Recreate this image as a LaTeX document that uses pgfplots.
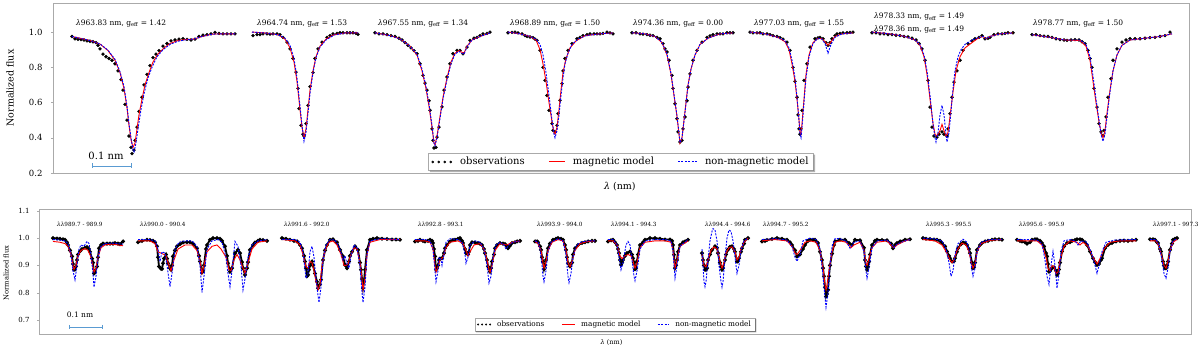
\documentclass[border=0pt]{standalone}
\usepackage{fontspec}
\setmainfont{DejaVu Serif}
\usepackage{pgfplots}
\pgfplotsset{compat=1.18}
\definecolor{framegray}{RGB}{170,170,170}
\definecolor{scalebar}{RGB}{90,155,210}

\pgfplotsset{
  spec/.style={
    scale only axis, clip mode=individual, unbounded coords=jump,
    axis line style={framegray, line width=0.8pt},
    xtick=\empty, ytick pos=left,
    tick style={framegray}, major tick length=2pt, tick align=outside,
    /pgf/number format/fixed, /pgf/number format/fixed zerofill,
    /pgf/number format/precision=1,
    /pgf/number format/assume math mode=true,
    legend cell align=left, legend columns=3,
  },
}
% shadow strips below and right of a named legend box
\newcommand\legshadow[2]{%
  \ifcsname pgf@sh@ns@#1\endcsname
    \fill[black, opacity=0.3] ([xshift=#2]#1.south west) -- ([xshift=#2,yshift=-#2]#1.south west)
      -- ([xshift=#2,yshift=-#2]#1.south east) -- ([xshift=#2,yshift=-#2]#1.north east)
      -- ([yshift=-#2]#1.north east) -- (#1.south east) -- cycle;
  \fi}
\newcommand\dsh{\rule[-0.5pt]{2pt}{1pt}\hspace{1.4pt}}

\begin{document}
\begin{tikzpicture}
\useasboundingbox (0pt,0pt) rectangle (1200pt,-352pt);

% ---------------- top panel ----------------
\begin{axis}[spec,
  at={(53pt,-173pt)}, anchor=south west,
  width=1136pt, height=170pt,
  xmin=53, xmax=1189, ymin=0.2, ymax=1.165,
  ytick={0.2,0.4,0.6,0.8,1.0},
  yticklabel style={font=\fontsize{8.5}{10}\selectfont, xshift=-5pt},
  legend style={at={(0.5,0.065)}, anchor=center, draw=framegray, fill=white,
    name=legT, font=\fontsize{10}{12}\selectfont, inner xsep=3pt, inner ysep=2pt,
    /tikz/every odd column/.append style={column sep=6pt},
    /tikz/every even column/.append style={column sep=22pt}},
]
\addlegendimage{legend image code/.code={\foreach \k in {0,1,2,3} \fill[black] (\k*6pt+1pt,0pt) circle (1.1pt);}}
\addlegendentry{observations}
\addlegendimage{legend image code/.code={\node[inner sep=0pt, anchor=west] at (0pt,0pt) {\textcolor{red}{\rule[-0.5pt]{16pt}{1pt}}};}}
\addlegendentry{magnetic model}
\addlegendimage{legend image code/.code={\node[inner sep=0pt, anchor=west] at (0pt,0pt) {\textcolor{blue}{\dsh\dsh\dsh\dsh\dsh\rule[-0.5pt]{2pt}{1pt}}};}}
\addlegendentry{non-magnetic model}

\addplot[black, draw opacity=0, mark=*, mark size=1.5pt, mark options={draw opacity=1}, forget plot] coordinates {
(72,0.975)(75,0.962)(78,0.958)(81,0.957)(84,0.955)(87,0.950)(90,0.948)(93,0.945)(96,0.940)(98,0.925)(100,0.905)(103,0.875)(106,0.86)(109,0.85)(112,0.84)(115,0.82)(118,0.78)(121,0.73)(123,0.67)(125,0.59)(127,0.50)(129,0.41)(131,0.345)(132,0.31)(134,0.33)(135,0.385)(137,0.46)(139,0.55)(142,0.63)(144,0.70)(147,0.76)(150,0.81)(153,0.855)(156,0.875)(159,0.895)(163,0.92)(167,0.935)(171,0.95)(175,0.955)(179,0.96)(183,0.962)(187,0.958)(191,0.955)(195,0.96)(199,0.975)(203,0.982)(207,0.985)(211,0.99)(215,0.998)(219,0.993)(223,0.99)(227,0.99)(231,0.99)(235,0.99)
(253,0.98)(257,0.985)(260,0.985)(263,0.99)(267,0.99)(270,0.988)(273,0.99)(277,0.99)(280,0.985)(283,0.97)(287,0.943)(290,0.905)(293,0.85)(296,0.773)(298,0.68)(299,0.565)(301,0.47)(303,0.42)(304,0.41)(306,0.48)(308,0.584)(310,0.69)(313,0.77)(315,0.85)(318,0.905)(322,0.943)(327,0.97)(330,0.98)(333,0.99)(337,0.993)(340,0.996)(343,0.996)(347,0.996)(350,0.996)(353,0.996)(356,0.993)(358,0.987)
(375,0.996)(379,0.99)(383,0.99)(387,0.985)(391,0.98)(395,0.975)(399,0.965)(402,0.955)(405,0.94)(408,0.925)(411,0.91)(414,0.895)(417,0.877)(420,0.82)(423,0.754)(425,0.71)(427,0.67)(429,0.61)(430,0.556)(432,0.45)(433,0.385)(434,0.342)(436,0.345)(437,0.404)(439,0.46)(442,0.575)(444,0.67)(447,0.745)(450,0.82)(453,0.877)(457,0.896)(460,0.896)(463,0.877)(467,0.915)(470,0.953)(474,0.965)(477,0.97)(480,0.98)(483,0.99)(487,0.993)(490,1.0)
(508,0.996)(512,0.998)(515,1.0)(518,0.995)(522,0.99)(525,0.98)(527,0.975)(530,0.972)(533,0.968)(535,0.96)(537,0.953)(540,0.896)(543,0.80)(545,0.726)(547,0.64)(549,0.556)(552,0.48)(553,0.442)(555,0.433)(557,0.47)(558,0.537)(560,0.612)(562,0.707)(563,0.78)(565,0.85)(568,0.896)(572,0.934)(577,0.962)(580,0.97)(583,0.98)(587,0.985)(590,0.99)(594,0.99)(597,0.99)(600,0.99)(603,0.993)(607,1.0)(610,0.995)(613,0.99)
(632,0.996)(636,0.996)(640,0.99)(643,0.988)(647,0.985)(650,0.982)(653,0.98)(657,0.97)(660,0.962)(663,0.934)(665,0.905)(667,0.887)(669,0.84)(672,0.754)(673,0.68)(675,0.593)(677,0.508)(678,0.433)(680,0.376)(682,0.385)(683,0.45)(685,0.518)(687,0.61)(688,0.688)(690,0.763)(693,0.84)(697,0.896)(702,0.943)(707,0.97)(710,0.978)(713,0.985)(717,0.99)(720,0.99)(723,0.99)(727,0.996)(730,0.996)(733,0.996)
(750,1.0)(753,0.995)(757,0.995)(760,0.996)(763,0.99)(767,0.99)(770,0.985)(773,0.98)(777,0.975)(780,0.968)(783,0.96)(787,0.943)(790,0.896)(793,0.80)(795,0.72)(797,0.63)(798,0.53)(799,0.45)(800,0.42)(801,0.45)(802,0.556)(804,0.726)(807,0.82)(810,0.915)(815,0.962)(818,0.967)(820,0.97)(823,0.962)(826,0.94)(828,0.924)(830,0.94)(832,0.962)(835,0.98)(837,0.99)(840,0.993)(843,0.995)(847,0.996)(850,0.998)(853,1.0)
(872,0.996)(876,0.996)(880,0.99)(884,0.99)(888,0.985)(892,0.985)(896,0.982)(900,0.98)(904,0.975)(908,0.973)(912,0.965)(916,0.955)(919,0.935)(922,0.905)(925,0.84)(928,0.726)(930,0.574)(932,0.46)(934,0.41)(937,0.404)(939,0.42)(942,0.433)(944,0.42)(947,0.41)(948,0.45)(950,0.537)(952,0.63)(954,0.716)(957,0.78)(960,0.84)(963,0.896)(968,0.934)(972,0.95)(975,0.962)(979,0.97)(982,0.98)(985,0.962)(988,0.965)(990,0.97)(994,0.985)(998,0.99)(1002,0.99)(1005,0.993)(1008,0.996)(1013,0.996)
(1032,0.985)(1036,0.985)(1040,0.98)(1044,0.977)(1048,0.975)(1052,0.97)(1056,0.962)(1060,0.957)(1064,0.955)(1067,0.953)(1071,0.955)(1075,0.957)(1079,0.955)(1082,0.945)(1085,0.934)(1088,0.896)(1090,0.85)(1092,0.80)(1094,0.68)(1097,0.574)(1099,0.48)(1101,0.433)(1103,0.414)(1104,0.442)(1106,0.518)(1108,0.63)(1111,0.735)(1113,0.84)(1117,0.905)(1122,0.943)(1126,0.955)(1130,0.962)(1135,0.962)(1140,0.962)(1145,0.965)(1150,0.968)(1155,0.97)(1160,0.975)(1165,0.98)(1170,1.0)
};
\addplot[red, line width=0.9pt, forget plot] coordinates {
(72,0.975)(80,0.965)(90,0.952)(100,0.932)(108,0.895)(115,0.84)(120,0.77)(124,0.68)(127,0.57)(129,0.47)(131,0.39)(133,0.345)(135,0.37)(137,0.45)(139,0.53)(142,0.62)(145,0.70)(149,0.77)(153,0.83)(158,0.875)(164,0.91)(170,0.935)(178,0.952)(186,0.958)(194,0.96)(202,0.975)(212,0.988)(222,0.99)(235,0.99)
(240,nan)
(252,1.0)(265,0.995)(278,0.985)(285,0.96)(290,0.91)(294,0.83)(297,0.72)(300,0.56)(302,0.46)(304,0.40)(306,0.45)(308,0.56)(310,0.67)(313,0.78)(316,0.86)(320,0.92)(326,0.96)(334,0.985)(345,0.995)(358,0.995)
(365,nan)
(375,0.996)(390,0.98)(400,0.962)(410,0.92)(417,0.87)(422,0.78)(426,0.68)(429,0.58)(432,0.46)(434,0.37)(435,0.36)(437,0.41)(440,0.52)(443,0.63)(447,0.74)(451,0.83)(455,0.88)(459,0.895)(462,0.885)(464,0.88)(467,0.92)(472,0.955)(480,0.975)(490,0.995)
(500,nan)
(508,1.0)(520,0.99)(530,0.975)(536,0.955)(540,0.90)(543,0.82)(546,0.72)(549,0.60)(552,0.49)(554,0.43)(555,0.42)(557,0.46)(559,0.56)(561,0.67)(563,0.77)(566,0.85)(570,0.91)(576,0.95)(585,0.98)(600,0.99)(613,0.995)
(620,nan)
(632,0.996)(645,0.99)(655,0.975)(662,0.94)(667,0.87)(671,0.76)(674,0.64)(677,0.52)(679,0.42)(680,0.37)(682,0.40)(684,0.50)(686,0.60)(688,0.70)(691,0.79)(695,0.87)(700,0.93)(708,0.965)(720,0.99)(733,0.995)
(740,nan)
(750,1.0)(765,0.99)(778,0.97)(785,0.945)(789,0.9)(792,0.82)(795,0.72)(797,0.62)(799,0.50)(800,0.43)(801,0.42)(802,0.48)(804,0.62)(806,0.76)(809,0.87)(813,0.94)(818,0.965)(822,0.962)(825,0.945)(828,0.925)(831,0.945)(835,0.975)(842,0.99)(853,0.995)
(860,nan)
(872,1.0)(890,0.99)(905,0.975)(915,0.955)(920,0.925)(924,0.86)(927,0.76)(930,0.62)(933,0.48)(935,0.42)(937,0.41)(940,0.44)(942,0.476)(944,0.44)(946,0.41)(948,0.43)(950,0.52)(953,0.66)(956,0.78)(960,0.86)(965,0.91)(972,0.94)(978,0.965)(983,0.975)(986,0.962)(990,0.975)(1000,0.99)(1013,0.995)
(1020,nan)
(1032,0.985)(1050,0.97)(1065,0.955)(1080,0.952)(1086,0.92)(1090,0.84)(1093,0.72)(1096,0.60)(1099,0.49)(1101,0.43)(1103,0.40)(1105,0.44)(1107,0.54)(1110,0.67)(1113,0.78)(1117,0.87)(1122,0.925)(1130,0.955)(1145,0.965)(1160,0.975)(1172,0.99)
};
\addplot[blue, line width=0.9pt, dash pattern=on 2pt off 1.3pt, forget plot] coordinates {
(72,0.975)(80,0.965)(90,0.952)(100,0.933)(108,0.897)(115,0.845)(120,0.775)(124,0.69)(127,0.58)(129,0.48)(131,0.40)(133,0.33)(134,0.32)(136,0.37)(138,0.45)(141,0.56)(144,0.65)(148,0.74)(152,0.80)(157,0.86)(163,0.90)(170,0.93)(178,0.948)(186,0.956)(194,0.96)(202,0.975)(212,0.988)(222,0.99)(235,0.99)
(240,nan)
(252,1.0)(265,0.995)(278,0.985)(285,0.965)(290,0.925)(294,0.85)(297,0.74)(300,0.58)(302,0.47)(304,0.38)(306,0.43)(308,0.54)(310,0.65)(313,0.77)(316,0.855)(320,0.915)(326,0.955)(334,0.983)(345,0.995)(358,0.995)
(365,nan)
(375,0.996)(390,0.98)(400,0.962)(410,0.92)(417,0.875)(422,0.79)(426,0.69)(429,0.59)(432,0.47)(434,0.37)(435,0.355)(437,0.40)(440,0.51)(443,0.62)(447,0.73)(451,0.82)(455,0.875)(459,0.89)(462,0.88)(464,0.875)(467,0.915)(472,0.955)(480,0.975)(490,0.995)
(500,nan)
(508,1.0)(520,0.99)(530,0.975)(536,0.96)(540,0.93)(543,0.87)(546,0.77)(549,0.64)(552,0.50)(554,0.42)(555,0.40)(557,0.44)(559,0.53)(561,0.64)(563,0.74)(565,0.82)(568,0.88)(572,0.93)(578,0.96)(586,0.98)(600,0.99)(613,0.995)
(620,nan)
(632,0.996)(645,0.99)(655,0.975)(662,0.942)(667,0.875)(671,0.765)(674,0.645)(677,0.525)(679,0.425)(680,0.372)(682,0.40)(684,0.495)(686,0.595)(688,0.695)(691,0.79)(695,0.87)(700,0.93)(708,0.965)(720,0.99)(733,0.995)
(740,nan)
(750,1.0)(765,0.99)(778,0.97)(785,0.95)(789,0.91)(792,0.84)(795,0.74)(797,0.63)(799,0.50)(800,0.42)(801,0.40)(802,0.46)(804,0.60)(806,0.74)(809,0.86)(813,0.935)(818,0.965)(822,0.96)(825,0.935)(828,0.88)(831,0.93)(835,0.97)(842,0.99)(853,0.995)
(860,nan)
(872,1.0)(890,0.99)(905,0.975)(915,0.955)(920,0.93)(924,0.87)(927,0.78)(930,0.64)(933,0.48)(935,0.40)(936,0.376)(938,0.43)(940,0.53)(942,0.584)(944,0.53)(946,0.42)(947,0.376)(949,0.43)(951,0.55)(953,0.68)(955,0.78)(958,0.86)(961,0.9)(965,0.93)(972,0.955)(978,0.968)(983,0.975)(986,0.962)(990,0.975)(1000,0.99)(1013,0.995)
(1020,nan)
(1032,0.985)(1050,0.97)(1065,0.955)(1080,0.955)(1086,0.93)(1090,0.86)(1093,0.75)(1096,0.62)(1099,0.50)(1101,0.42)(1103,0.38)(1105,0.42)(1107,0.52)(1110,0.66)(1113,0.78)(1117,0.87)(1122,0.925)(1130,0.955)(1145,0.965)(1160,0.975)(1172,0.99)
};
\addplot[scalebar, line width=0.8pt, mark=|, mark size=2.5pt, mark options={solid}, forget plot] coordinates {(92,0.24)(131,0.24)};

\begin{scope}[every node/.style={anchor=west, inner sep=0pt, font=\fontsize{7.5}{9}\selectfont}]
\node at (axis cs:76,1.051) {\textit{λ}963.83 nm, g\textsubscript{eff} = 1.42};
\node at (axis cs:257,1.051) {\textit{λ}964.74 nm, g\textsubscript{eff} = 1.53};
\node at (axis cs:378,1.051) {\textit{λ}967.55 nm, g\textsubscript{eff} = 1.34};
\node at (axis cs:510,1.051) {\textit{λ}968.89 nm, g\textsubscript{eff} = 1.50};
\node at (axis cs:633,1.051) {\textit{λ}974.36 nm, g\textsubscript{eff} = 0.00};
\node at (axis cs:754,1.051) {\textit{λ}977.03 nm, g\textsubscript{eff} = 1.55};
\node at (axis cs:874,1.089) {\textit{λ}978.33 nm, g\textsubscript{eff} = 1.49};
\node at (axis cs:874,1.017) {\textit{λ}978.36 nm, g\textsubscript{eff} = 1.49};
\node at (axis cs:1033,1.051) {\textit{λ}978.77 nm, g\textsubscript{eff} = 1.50};
\end{scope}
\node[font=\fontsize{10}{12}\selectfont] at (axis cs:106,0.30) {0.1 nm};
\node[rotate=90, font=\fontsize{9.5}{11}\selectfont] at ([xshift=-43pt]rel axis cs:0,0.5) {Normalized flux};
\node[font=\fontsize{9.5}{11}\selectfont] at ([yshift=-14pt]rel axis cs:0.499,0) {\textit{λ} (nm)};
\end{axis}
\legshadow{legT}{1.5pt}

% ---------------- bottom panel ----------------
\begin{axis}[spec,
  at={(39pt,-334pt)}, anchor=south west,
  width=1152pt, height=124.7pt,
  xmin=39, xmax=1191, ymin=0.648, ymax=1.106,
  ytick={0.7,0.8,0.9,1.0,1.1},
  yticklabel style={font=\fontsize{7}{8}\selectfont, xshift=-4pt},
  legend style={at={(0.5,0.076)}, anchor=center, draw=framegray, fill=white,
    name=legB, font=\fontsize{7.3}{8.5}\selectfont, inner xsep=2pt, inner ysep=1pt,
    /tikz/every odd column/.append style={column sep=4pt},
    /tikz/every even column/.append style={column sep=15pt}},
]
\addlegendimage{legend image code/.code={\foreach \k in {0,1,2,3} \fill[black] (\k*4pt+1pt,0pt) circle (0.8pt);}}
\addlegendentry{observations}
\addlegendimage{legend image code/.code={\draw[draw=red, line width=0.9pt] (0pt,0pt) -- (13pt,0pt);}}
\addlegendentry{magnetic model}
\addlegendimage{legend image code/.code={\draw[draw=blue, line width=0.8pt, dash pattern=on 2pt off 1.3pt] (0pt,0pt) -- (11pt,0pt);}}
\addlegendentry{non-magnetic model}

\addplot[black, line width=1.8pt, mark=*, mark size=0.9pt, forget plot] coordinates {
(53,1.0)(57,0.999)(60,0.998)(63,0.996)(65,0.994)(67,0.985)(68,0.975)(70,0.955)(72,0.933)(73,0.905)(74,0.884)(75,0.885)(76,0.896)(77,0.92)(78,0.94)(80,0.952)(82,0.96)(85,0.965)(87,0.967)(89,0.96)(90,0.95)(92,0.925)(93,0.91)(94,0.87)(95,0.875)(97,0.896)(98,0.93)(99,0.963)(101,0.975)(103,0.98)(107,0.98)(110,0.98)(113,0.98)(115,0.982)(118,0.98)(120,0.978)(123,0.988)
(130,nan)
(138,0.985)(142,0.99)(147,0.994)(150,0.993)(153,0.99)(155,0.985)(157,0.97)(158,0.93)(159,0.896)(161,0.888)(162,0.887)(163,0.908)(164,0.925)(166,0.94)(167,0.925)(168,0.908)(170,0.89)(171,0.884)(172,0.9)(173,0.933)(175,0.955)(177,0.97)(180,0.978)(183,0.984)(187,0.985)(190,0.985)(193,0.98)(197,0.963)(199,0.935)(200,0.914)(202,0.874)(203,0.88)(204,0.9)(206,0.96)(207,0.975)(210,0.994)(213,1.0)(217,1.0)(220,0.998)(222,0.99)(225,0.97)(227,0.935)(228,0.908)(230,0.877)(232,0.89)(235,0.945)(238,0.957)(240,0.945)(242,0.912)(243,0.89)(245,0.865)(247,0.89)(248,0.912)(250,0.957)(253,0.975)(255,0.984)(258,0.99)(260,0.994)(263,0.993)(267,0.99)
(275,nan)
(282,1.0)(286,0.998)(290,0.994)(294,0.99)(297,0.988)(300,0.975)(302,0.963)(304,0.935)(305,0.914)(306,0.89)(307,0.86)(308,0.865)(309,0.884)(310,0.9)(312,0.914)(313,0.9)(315,0.87)(317,0.84)(318,0.816)(320,0.83)(321,0.847)(323,0.92)(325,0.955)(327,0.975)(330,0.994)(333,0.996)(337,0.985)(340,0.957)(343,0.933)(345,0.902)(347,0.89)(349,0.914)(350,0.935)(352,0.95)(355,0.97)(358,0.957)(360,0.91)(361,0.884)(362,0.85)(363,0.816)(364,0.84)(365,0.884)(367,0.957)(370,0.994)(373,0.998)(377,1.0)(382,0.998)(387,0.997)(392,0.995)(396,0.995)(400,0.994)
(408,nan)
(415,0.988)(418,0.99)(420,0.994)(423,0.99)(425,0.988)(428,0.99)(430,0.994)(432,0.99)(433,0.982)(434,0.96)(435,0.933)(436,0.884)(437,0.89)(438,0.9)(439,0.92)(440,0.925)(442,0.926)(444,0.945)(445,0.963)(447,0.975)(450,0.988)(453,0.993)(455,0.994)(458,0.998)(460,1.0)(462,0.99)(463,0.982)(465,0.96)(466,0.945)(468,0.94)(469,0.95)(470,0.975)(472,0.985)(475,0.984)(478,0.982)(480,0.98)(482,0.975)(484,0.96)(485,0.945)(487,0.92)(488,0.896)(490,0.877)(491,0.89)(492,0.914)(494,0.94)(495,0.963)(497,0.975)(500,0.982)(503,0.98)(505,0.978)(507,0.97)(508,0.963)(510,0.972)(512,0.982)(515,0.985)(517,0.988)(520,0.99)
(528,nan)
(535,0.988)(537,0.988)(538,0.985)(540,0.97)(541,0.957)(542,0.93)(543,0.914)(544,0.886)(545,0.9)(546,0.92)(548,0.963)(550,0.98)(553,0.994)(556,0.998)(558,1.0)(561,0.998)(563,0.994)(565,0.975)(566,0.957)(567,0.93)(568,0.908)(570,0.896)(572,0.91)(573,0.94)(575,0.963)(578,0.975)(582,0.982)(585,0.985)(588,0.988)(592,0.99)(595,0.99)
(600,nan)
(608,0.988)(611,0.992)(613,0.994)(615,0.985)(617,0.975)(618,0.96)(619,0.945)(620,0.92)(621,0.902)(622,0.91)(623,0.92)(625,0.935)(627,0.945)(630,0.951)(632,0.94)(633,0.926)(634,0.91)(635,0.886)(636,0.89)(637,0.915)(638,0.94)(640,0.975)(643,0.985)(645,0.994)(650,1.0)(655,1.0)(660,0.998)(665,0.995)(670,0.995)(672,0.99)(673,0.975)(674,0.939)(675,0.89)(676,0.9)(677,0.92)(678,0.95)(680,0.975)(683,0.985)(685,0.988)(688,0.994)
(695,nan)
(702,0.945)(703,0.92)(704,0.9)(705,0.884)(706,0.884)(707,0.89)(708,0.92)(710,0.94)(712,0.957)(715,0.97)(717,0.965)(718,0.945)(720,0.91)(721,0.896)(722,0.884)(723,0.89)(725,0.92)(726,0.94)(728,0.958)(730,0.968)(732,0.97)(734,0.96)(735,0.95)(737,0.914)(738,0.915)(739,0.926)(741,0.95)(742,0.963)(744,0.98)(745,0.994)(748,1.0)
(755,nan)
(762,0.988)(765,0.99)(767,0.993)(772,0.997)(777,1.0)(782,0.998)(787,0.994)(790,0.985)(792,0.975)(795,0.955)(797,0.933)(800,0.94)(803,0.96)(805,0.975)(808,0.99)(810,0.994)(813,0.994)(815,0.994)(817,0.985)(818,0.982)(820,0.95)(822,0.92)(823,0.89)(824,0.86)(825,0.82)(826,0.786)(827,0.795)(828,0.81)(829,0.86)(830,0.9)(832,0.943)(834,0.975)(835,0.988)(840,0.994)(845,0.994)(849,0.982)(852,0.975)(855,0.994)(860,0.992)(864,0.965)(865,0.92)(866,0.896)(867,0.884)(868,0.895)(869,0.914)(870,0.94)(872,0.975)(875,0.99)(877,0.994)(882,0.993)(887,0.992)(891,0.98)(893,0.963)(895,0.975)(897,0.982)(900,0.988)(905,0.994)(910,0.996)
(916,nan)
(923,1.0)(926,0.998)(930,0.997)(934,0.995)(937,0.994)(940,0.99)(942,0.982)(945,0.97)(947,0.951)(949,0.935)(950,0.926)(952,0.914)(954,0.915)(955,0.926)(957,0.95)(958,0.963)(961,0.978)(963,0.984)(965,0.982)(967,0.975)(969,0.96)(970,0.945)(972,0.91)(973,0.89)(974,0.893)(975,0.91)(977,0.957)(980,0.975)(982,0.982)(985,0.988)(988,0.99)(992,0.994)(995,0.996)(999,0.996)(1002,0.994)
(1010,nan)
(1017,0.994)(1020,0.99)(1022,0.988)(1025,0.985)(1027,0.98)(1030,0.985)(1032,0.994)(1035,0.996)(1037,0.996)(1040,0.99)(1042,0.982)(1044,0.97)(1046,0.945)(1047,0.933)(1048,0.905)(1049,0.877)(1050,0.88)(1052,0.89)(1054,0.893)(1056,0.88)(1057,0.865)(1058,0.87)(1059,0.885)(1060,0.91)(1062,0.951)(1064,0.97)(1067,0.982)(1070,0.985)(1072,0.99)(1075,0.993)(1077,0.996)(1080,0.996)(1082,0.994)(1085,0.985)(1087,0.975)(1090,0.951)(1093,0.926)(1095,0.912)(1097,0.902)(1099,0.905)(1101,0.92)(1102,0.926)(1105,0.963)(1108,0.975)(1112,0.982)(1116,0.988)(1120,0.99)(1124,0.991)(1128,0.99)(1132,0.992)(1136,0.994)
(1143,nan)
(1150,0.996)(1153,0.996)(1155,0.994)(1157,0.985)(1158,0.982)(1160,0.96)(1161,0.951)(1163,0.914)(1164,0.9)(1165,0.89)(1166,0.89)(1167,0.9)(1168,0.914)(1170,0.957)(1172,0.98)(1173,0.994)(1175,0.998)(1177,1.0)
};
\addplot[red, line width=0.9pt, forget plot] coordinates {
(53,0.988)(60,0.985)(65,0.98)(68,0.97)(71,0.94)(73,0.90)(74,0.885)(76,0.9)(78,0.935)(81,0.955)(85,0.962)(88,0.955)(91,0.93)(93,0.895)(94,0.875)(96,0.89)(98,0.93)(101,0.965)(105,0.975)(112,0.978)(118,0.975)(123,0.972)
(130,nan)
(138,0.99)(150,0.99)(155,0.98)(158,0.95)(161,0.945)(164,0.94)(166,0.935)(168,0.91)(171,0.88)(174,0.92)(178,0.96)(185,0.975)(192,0.975)(197,0.955)(200,0.915)(202,0.87)(204,0.9)(207,0.95)(212,0.97)(217,0.975)(221,0.96)(226,0.93)(229,0.885)(231,0.88)(234,0.92)(237,0.94)(240,0.92)(243,0.89)(245,0.87)(248,0.91)(252,0.96)(258,0.985)(267,0.99)
(275,nan)
(282,0.995)(295,0.99)(300,0.975)(303,0.94)(306,0.895)(308,0.89)(310,0.915)(312,0.91)(314,0.88)(316,0.84)(318,0.81)(320,0.83)(322,0.9)(325,0.955)(329,0.985)(333,0.99)(337,0.975)(341,0.94)(344,0.9)(346,0.9)(348,0.905)(350,0.93)(354,0.965)(357,0.96)(360,0.91)(362,0.85)(363,0.81)(365,0.85)(367,0.94)(370,0.985)(380,0.995)(400,0.995)
(408,nan)
(415,0.99)(425,0.99)(430,0.985)(433,0.96)(435,0.9)(436,0.875)(438,0.895)(440,0.92)(443,0.93)(446,0.965)(450,0.985)(458,0.99)(463,0.98)(466,0.955)(468,0.935)(470,0.95)(474,0.975)(480,0.98)(484,0.96)(487,0.92)(489,0.885)(490,0.875)(492,0.9)(495,0.955)(500,0.98)(507,0.975)(512,0.985)(520,0.99)
(528,nan)
(535,0.988)(538,0.98)(541,0.955)(543,0.91)(544,0.89)(546,0.915)(548,0.955)(552,0.985)(558,0.995)(563,0.99)(566,0.955)(568,0.91)(570,0.895)(572,0.915)(575,0.955)(580,0.98)(588,0.988)(595,0.99)
(600,nan)
(608,0.99)(613,0.99)(617,0.975)(620,0.935)(622,0.925)(625,0.935)(628,0.94)(631,0.935)(633,0.915)(635,0.89)(637,0.91)(640,0.965)(645,0.985)(655,0.99)(665,0.99)(671,0.985)(673,0.955)(675,0.89)(677,0.92)(680,0.97)(688,0.99)
(695,nan)
(702,0.94)(704,0.9)(706,0.895)(708,0.92)(711,0.955)(714,0.968)(717,0.96)(719,0.93)(721,0.9)(722,0.89)(724,0.91)(726,0.945)(729,0.965)(732,0.968)(735,0.95)(737,0.92)(739,0.93)(741,0.96)(744,0.985)(748,1.0)
(755,nan)
(762,0.99)(775,0.995)(787,0.99)(792,0.97)(795,0.945)(797,0.94)(800,0.955)(805,0.985)(810,0.99)(816,0.985)(820,0.955)(823,0.89)(825,0.83)(826,0.81)(827,0.83)(829,0.88)(832,0.95)(835,0.985)(840,0.99)(846,0.985)(851,0.965)(854,0.975)(860,0.985)(864,0.955)(866,0.905)(867,0.9)(869,0.925)(872,0.965)(877,0.985)(887,0.99)(892,0.97)(894,0.965)(897,0.975)(905,0.99)(910,0.995)
(916,nan)
(923,0.995)(935,0.99)(942,0.975)(947,0.945)(950,0.92)(952,0.91)(954,0.92)(957,0.955)(962,0.982)(966,0.975)(969,0.95)(971,0.915)(973,0.89)(975,0.905)(977,0.95)(981,0.98)(990,0.992)(1002,0.995)
(1010,nan)
(1017,0.99)(1027,0.99)(1037,0.99)(1042,0.975)(1046,0.93)(1048,0.89)(1050,0.88)(1052,0.9)(1054,0.895)(1056,0.87)(1058,0.875)(1060,0.92)(1064,0.97)(1070,0.99)(1077,0.985)(1080,0.975)(1083,0.985)(1088,0.97)(1093,0.93)(1097,0.905)(1100,0.925)(1104,0.96)(1110,0.985)(1120,0.99)(1136,0.99)
(1143,nan)
(1150,0.99)(1156,0.99)(1159,0.97)(1162,0.93)(1164,0.9)(1166,0.89)(1168,0.915)(1170,0.955)(1173,0.985)(1177,0.995)
};
\addplot[blue, line width=0.9pt, dash pattern=on 2pt off 1.3pt, forget plot] coordinates {
(53,0.995)(60,0.993)(65,0.99)(68,0.98)(71,0.94)(73,0.88)(75,0.847)(77,0.9)(79,0.96)(81,0.975)(84,0.97)(87,0.988)(89,0.98)(91,0.94)(93,0.87)(94,0.82)(96,0.86)(98,0.93)(101,0.97)(105,0.98)(112,0.982)(118,0.98)(123,0.978)
(130,nan)
(138,0.995)(150,0.995)(155,0.99)(158,0.96)(160,0.914)(162,0.95)(165,0.945)(167,0.9)(170,0.822)(172,0.87)(175,0.96)(179,0.985)(185,0.99)(192,0.99)(197,0.97)(200,0.9)(202,0.80)(204,0.86)(207,0.96)(212,0.99)(218,0.995)(222,0.985)(226,0.93)(228,0.87)(230,0.822)(232,0.88)(235,0.988)(238,0.97)(241,0.9)(243,0.81)(245,0.85)(248,0.93)(252,0.975)(258,0.99)(267,0.995)
(275,nan)
(282,0.995)(295,0.995)(300,0.985)(303,0.95)(306,0.853)(308,0.87)(310,0.95)(312,0.97)(314,0.93)(316,0.85)(318,0.79)(319,0.764)(321,0.82)(323,0.92)(326,0.975)(330,0.995)(335,0.993)(339,0.97)(342,0.935)(343,0.92)(345,0.935)(347,0.905)(349,0.89)(351,0.935)(354,0.975)(357,0.965)(360,0.9)(362,0.8)(363,0.764)(365,0.82)(367,0.94)(370,0.99)(380,0.998)(400,0.995)
(408,nan)
(415,0.995)(425,0.995)(430,0.99)(433,0.96)(435,0.88)(436,0.84)(438,0.88)(439,0.93)(441,0.92)(442,0.9)(444,0.94)(446,0.985)(450,0.998)(458,0.995)(462,0.985)(465,0.94)(466,0.908)(468,0.93)(470,0.975)(475,0.99)(480,0.985)(484,0.96)(487,0.9)(489,0.835)(491,0.86)(493,0.93)(496,0.975)(500,0.985)(504,0.975)(506,0.96)(509,0.975)(513,0.985)(520,0.99)
(528,nan)
(535,0.99)(538,0.985)(540,0.96)(542,0.9)(543,0.86)(544,0.84)(546,0.88)(548,0.95)(551,0.985)(558,0.998)(563,0.99)(566,0.94)(568,0.86)(569,0.837)(571,0.87)(573,0.93)(576,0.97)(580,0.985)(588,0.99)(595,0.99)
(600,nan)
(608,0.995)(613,0.995)(617,0.975)(620,0.91)(621,0.884)(623,0.91)(626,0.975)(628,0.988)(630,0.975)(632,0.92)(634,0.86)(635,0.844)(637,0.88)(640,0.96)(645,0.99)(655,0.995)(665,0.995)(671,0.99)(673,0.95)(675,0.853)(677,0.9)(680,0.97)(688,0.995)
(695,nan)
(702,0.96)(703,0.9)(704,0.84)(705,0.822)(706,0.84)(708,0.92)(710,0.99)(712,1.025)(713,1.035)(715,1.03)(717,0.99)(719,0.9)(721,0.84)(722,0.82)(723,0.84)(725,0.93)(727,1.0)(729,1.03)(731,1.025)(733,0.99)(735,0.93)(737,0.871)(739,0.9)(741,0.955)(744,0.99)(748,1.0)
(755,nan)
(762,0.995)(775,0.998)(787,0.993)(792,0.97)(795,0.93)(797,0.915)(800,0.94)(803,0.99)(810,1.0)(816,0.995)(820,0.96)(822,0.9)(824,0.82)(826,0.746)(828,0.8)(830,0.9)(832,0.97)(835,0.998)(840,0.998)(846,0.99)(850,0.963)(854,0.985)(860,0.99)(864,0.95)(866,0.88)(867,0.853)(869,0.89)(872,0.965)(877,0.99)(887,0.993)(892,0.975)(894,0.965)(897,0.978)(905,0.99)(910,0.995)
(916,nan)
(923,1.0)(935,0.997)(942,0.99)(946,0.96)(949,0.91)(951,0.86)(953,0.88)(955,0.94)(958,0.98)(963,0.996)(967,0.985)(970,0.94)(972,0.88)(973,0.86)(975,0.89)(977,0.95)(981,0.985)(990,0.995)(1002,0.995)
(1010,nan)
(1017,0.995)(1027,0.995)(1037,0.993)(1042,0.98)(1045,0.92)(1047,0.86)(1049,0.83)(1051,0.9)(1053,0.951)(1055,0.9)(1057,0.816)(1059,0.87)(1061,0.95)(1064,0.99)(1070,0.995)(1075,0.99)(1078,0.975)(1081,0.99)(1087,0.985)(1092,0.94)(1095,0.9)(1097,0.871)(1099,0.9)(1102,0.95)(1106,0.985)(1115,0.993)(1136,0.995)
(1143,nan)
(1150,0.995)(1156,0.995)(1159,0.975)(1162,0.92)(1164,0.87)(1166,0.853)(1168,0.89)(1170,0.95)(1173,0.99)(1177,0.998)
};
\addplot[scalebar, line width=0.7pt, mark=|, mark size=2pt, mark options={solid}, forget plot] coordinates {(69,0.674)(102,0.674)};

\begin{scope}[every node/.style={anchor=west, inner sep=0pt, font=\fontsize{5.7}{7}\selectfont}]
\node at (axis cs:57,1.051) {\textit{λλ}989.7 - 989.9};
\node at (axis cs:140,1.051) {\textit{λλ}990.0 - 990.4};
\node at (axis cs:284,1.051) {\textit{λλ}991.6 - 992.0};
\node at (axis cs:418,1.051) {\textit{λλ}992.8 - 993.1};
\node at (axis cs:537,1.051) {\textit{λλ}993.9 - 994.0};
\node at (axis cs:611,1.051) {\textit{λλ}994.1 - 994.3};
\node at (axis cs:705,1.051) {\textit{λλ}994.4 - 994.6};
\node at (axis cs:763,1.051) {\textit{λλ}994.7 - 995.2};
\node at (axis cs:926,1.051) {\textit{λλ}995.3 - 995.5};
\node at (axis cs:1019,1.051) {\textit{λλ}995.6 - 995.9};
\node at (axis cs:1153,1.051) {\textit{λλ}997.1 - 997.3};
\end{scope}
\node[font=\fontsize{7.5}{9}\selectfont] at (axis cs:80,0.718) {0.1 nm};
\node[rotate=90, font=\fontsize{6.8}{8}\selectfont] at ([xshift=-33pt]rel axis cs:0,0.49) {Normalized flux};
\node[font=\fontsize{6.5}{8}\selectfont] at ([yshift=-9pt]rel axis cs:0.497,0) {\textit{λ} (nm)};
\end{axis}
\legshadow{legB}{1.2pt}
\end{tikzpicture}
\end{document}
